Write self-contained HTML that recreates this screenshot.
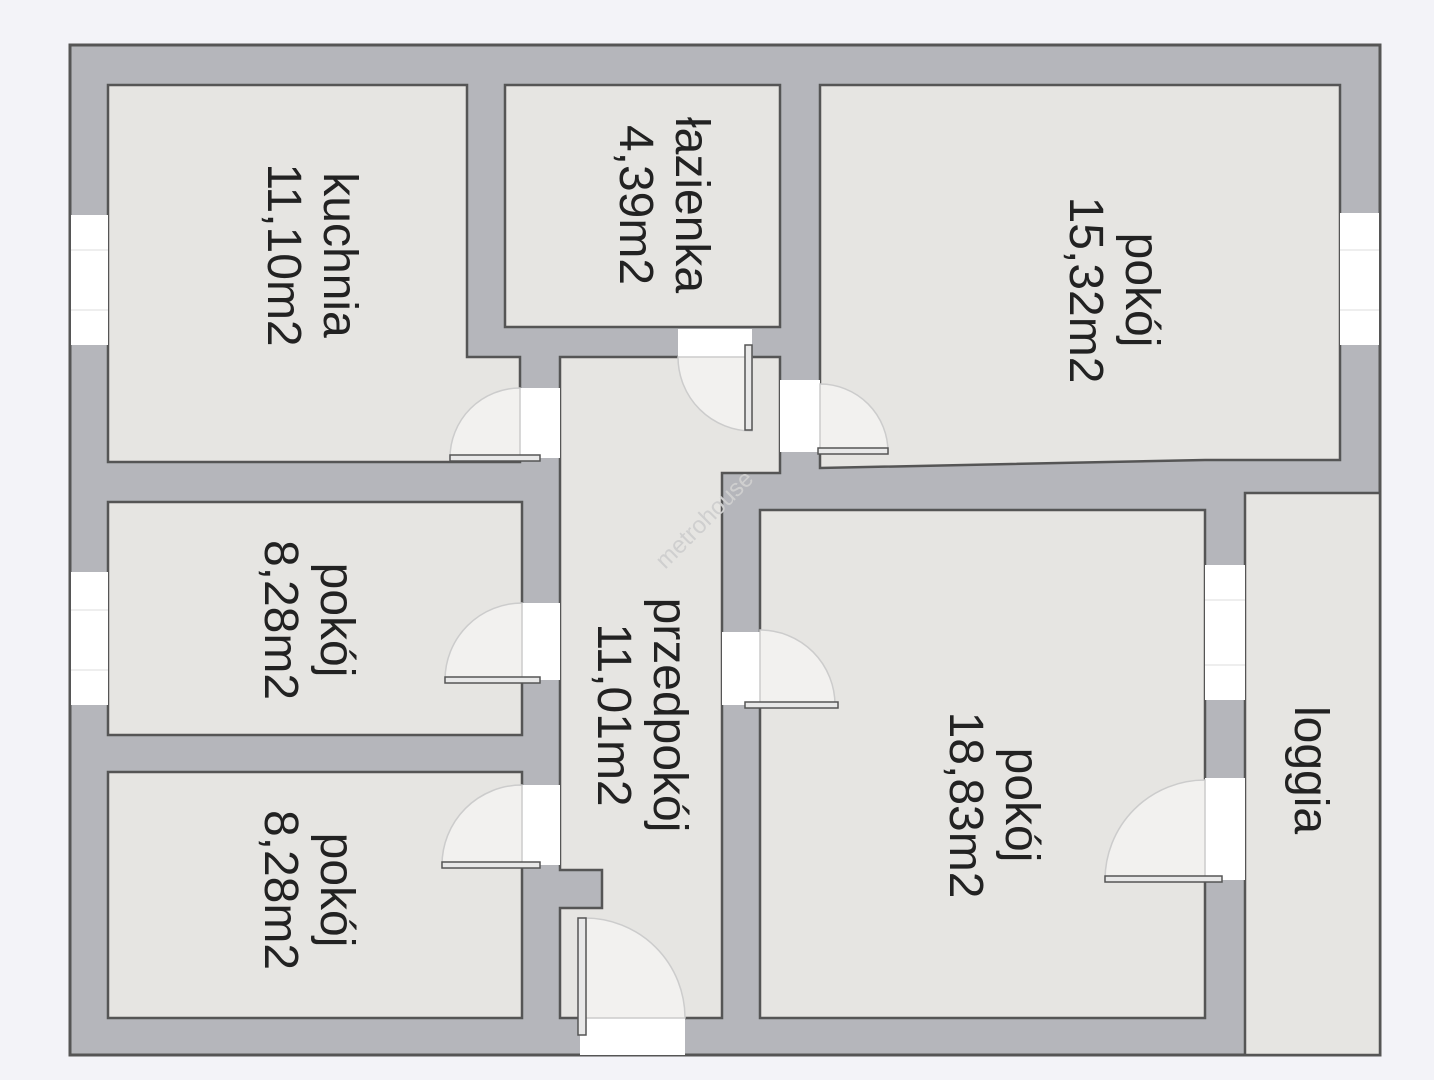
<!DOCTYPE html>
<html><head><meta charset="utf-8"><style>
html,body{margin:0;padding:0;background:#f3f3f8;}
svg{display:block}
text{font-family:"Liberation Sans",sans-serif;font-size:48px;fill:#222;}
</style></head><body>
<svg width="1434" height="1080" viewBox="0 0 1434 1080" xmlns="http://www.w3.org/2000/svg">
<rect x="0" y="0" width="1434" height="1080" fill="#f3f3f8"/>
<rect x="70" y="45" width="1310" height="1010" fill="#b5b6bb" stroke="#555" stroke-width="3"/>
<g fill="#e6e5e2" stroke="#555" stroke-width="2.5">
<polygon points="108,85 467,85 467,357 520,357 520,462 108,462"/>
<rect x="505" y="85" width="275" height="242"/>
<polygon points="820,85 1340,85 1340,460 1205,460 820,468"/>
<polygon points="560,357 780,357 780,473 722,473 722,1018 560,1018 560,908 602,908 602,870 560,870"/>
<rect x="108" y="502" width="414" height="233"/>
<rect x="108" y="772" width="414" height="246"/>
<rect x="760" y="510" width="445" height="508"/>
<rect x="1245" y="493" width="135" height="562"/>
</g>
<g fill="#ffffff">
<rect x="71" y="215" width="37" height="130"/>
<rect x="71" y="572" width="37" height="133"/>
<rect x="1340" y="213" width="39" height="132"/>
<rect x="1205" y="565" width="40" height="135"/>
<rect x="1205" y="778" width="40" height="102"/>
<rect x="520" y="388" width="40" height="70"/>
<rect x="678" y="329" width="74" height="29"/>
<rect x="780" y="380" width="40" height="72"/>
<rect x="522" y="603" width="38" height="77"/>
<rect x="522" y="785" width="38" height="80"/>
<rect x="722" y="632" width="38" height="73"/>
<rect x="580" y="1017" width="105" height="38"/>
</g>
<g stroke="#ddd" stroke-width="1">
<line x1="71" y1="250" x2="108" y2="250"/><line x1="71" y1="310" x2="108" y2="310"/>
<line x1="71" y1="610" x2="108" y2="610"/><line x1="71" y1="670" x2="108" y2="670"/>
<line x1="1340" y1="250" x2="1379" y2="250"/><line x1="1340" y1="310" x2="1379" y2="310"/>
<line x1="1205" y1="600" x2="1245" y2="600"/><line x1="1205" y1="665" x2="1245" y2="665"/>
</g>
<g fill="#f2f1ef" stroke="#ccc" stroke-width="1.5">
<path d="M520,458 L450,458 A70,70 0 0 1 520,388 Z"/>
<path d="M752,357 L678,357 A74,74 0 0 0 752,431 Z"/>
<path d="M820,452 L820,384 A68,68 0 0 1 888,452 Z"/>
<path d="M522,680 L445,680 A77,77 0 0 1 522,603 Z"/>
<path d="M522,865 L442,865 A80,80 0 0 1 522,785 Z"/>
<path d="M760,705 L760,630 A75,75 0 0 1 835,705 Z"/>
<path d="M1205,880 L1105,880 A100,100 0 0 1 1205,780 Z"/>
<path d="M585,1018 L585,918 A100,100 0 0 1 685,1018 Z"/>
</g>
<g fill="#e8e8e8" stroke="#555" stroke-width="1.5">
<rect x="450" y="455" width="90" height="6"/>
<rect x="745" y="345" width="7" height="85"/>
<rect x="818" y="448" width="70" height="6"/>
<rect x="445" y="677" width="95" height="6"/>
<rect x="442" y="862" width="98" height="6"/>
<rect x="745" y="702" width="93" height="6"/>
<rect x="1105" y="876" width="117" height="6"/>
<rect x="578" y="918" width="8" height="117"/>
</g>
<text x="0" y="0" transform="translate(710,525) rotate(-45)" text-anchor="middle" style="font-size:24px;fill:#cfcfcf">metrohouse</text>
<g text-anchor="middle">
<text transform="translate(310,255) rotate(90)"><tspan x="0" y="-14">kuchnia</tspan><tspan x="0" y="42">11,10m2</tspan></text>
<text transform="translate(662,205) rotate(90)"><tspan x="0" y="-14">łazienka</tspan><tspan x="0" y="42">4,39m2</tspan></text>
<text transform="translate(1112,290) rotate(90)"><tspan x="0" y="-14">pokój</tspan><tspan x="0" y="42">15,32m2</tspan></text>
<text transform="translate(307,620) rotate(90)"><tspan x="0" y="-14">pokój</tspan><tspan x="0" y="42">8,28m2</tspan></text>
<text transform="translate(307,890) rotate(90)"><tspan x="0" y="-14">pokój</tspan><tspan x="0" y="42">8,28m2</tspan></text>
<text transform="translate(640,715) rotate(90)"><tspan x="0" y="-14">przedpokój</tspan><tspan x="0" y="42">11,01m2</tspan></text>
<text transform="translate(992,805) rotate(90)"><tspan x="0" y="-14">pokój</tspan><tspan x="0" y="42">18,83m2</tspan></text>
<text transform="translate(1310,770) rotate(90)"><tspan x="0" y="15">loggia</tspan></text>
</g>
</svg>
</body></html>
